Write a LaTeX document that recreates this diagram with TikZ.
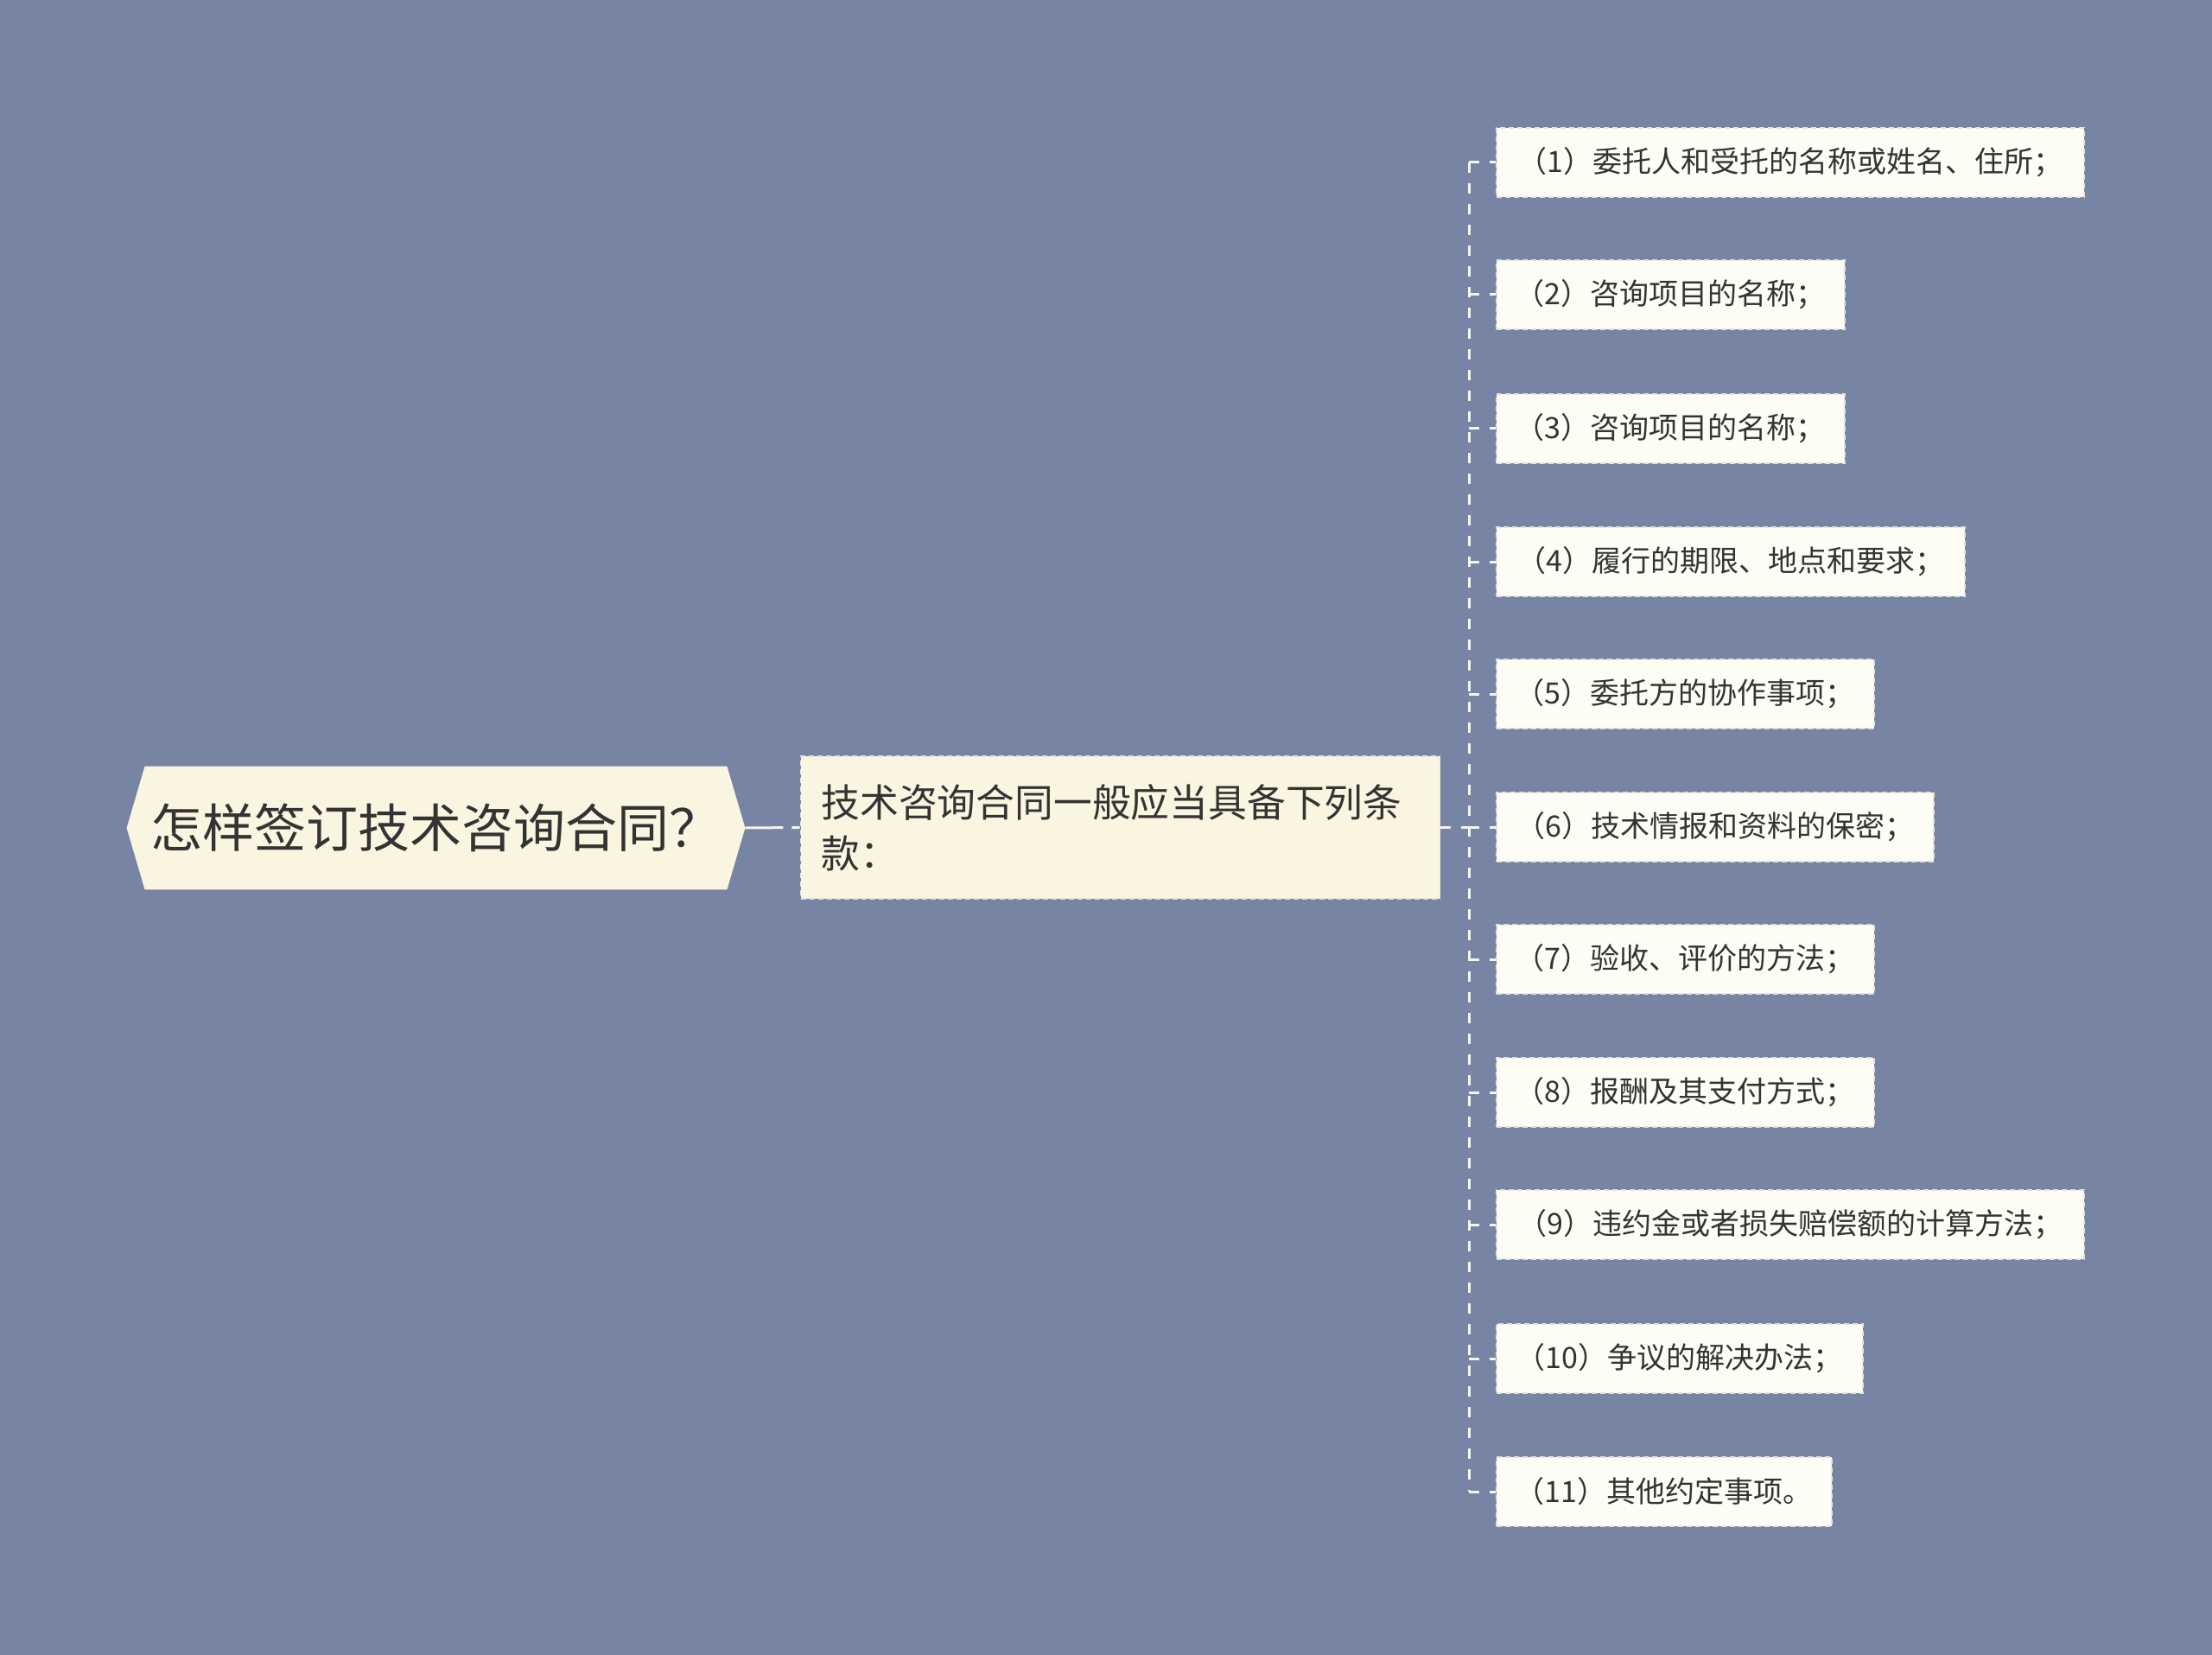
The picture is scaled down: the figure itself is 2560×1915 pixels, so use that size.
\documentclass[tikz,border=0pt]{standalone}
\usepackage{fontspec}
\setmainfont{Noto Sans CJK SC}
\usetikzlibrary{backgrounds,calc}
\definecolor{bgc}{HTML}{7784A3}
\definecolor{creamc}{HTML}{FAF5E0}
\definecolor{leafc}{HTML}{FDFDF5}
\definecolor{txtc}{HTML}{333333}
\definecolor{edgec}{HTML}{F4F4F0}
\definecolor{bordc}{HTML}{E2E2DA}
\tikzset{
  rootnode/.style={minimum width=336.5pt, minimum height=71pt, inner sep=0pt, text=txtc, font=\fontsize{30}{34}\selectfont},
  midnode/.style={fill=creamc, draw=bordc, dash pattern=on 3pt off 2pt, line width=0.8pt, text width=346pt, minimum height=82.5pt, align=left, text=txtc, inner xsep=12pt, font=\fontsize{22.4}{29.5}\selectfont},
  leafnode/.style={fill=leafc, draw=bordc, dash pattern=on 3pt off 2pt, line width=0.8pt, minimum height=40pt, inner xsep=8pt, anchor=west, text=txtc, font=\fontsize{17}{20}\selectfont},
  conn/.style={draw=edgec, line width=1.5pt, dash pattern=on 6pt off 6pt},
  rootconn/.style={draw=edgec, line width=1.5pt, dash pattern=on 22pt off 5pt}
}
\begin{document}
\begin{tikzpicture}[x=0.5pt,y=-0.5pt]
\begin{scope}[on background layer]
\fill[bgc] (0,0) rectangle (2560,1915);
\end{scope}
\useasboundingbox (0,0) rectangle (2560,1915);
% root
\node[rootnode] (root) at (504.5,958) {怎样签订技术咨询合同？};
\begin{scope}[on background layer]
\fill[creamc] (root.north west) -- (root.north east) -- ($(root.east)+(21,0)$) -- (root.south east) -- (root.south west) -- ($(root.west)+(-21,0)$) -- cycle;
\end{scope}
\coordinate (roottip) at ($(root.east)+(21,0)$);
% middle
\node[midnode] (mid) at (1296.5,957.5) {技术咨询合同一般应当具备下列条\\款：};
\draw[rootconn] (roottip) -- (mid.west);
% leaves
\node[leafnode, minimum width=340pt] (l1) at (1731,188) {（1）委托人和受托的名称或姓名、住所；};
\node[leafnode, minimum width=201.5pt] (l2) at (1731,341) {（2）咨询项目的名称；};
\node[leafnode, minimum width=201.5pt] (l3) at (1731,496) {（3）咨询项目的名称；};
\node[leafnode, minimum width=271pt] (l4) at (1731,650) {（4）履行的期限、地点和要求；};
\node[leafnode, minimum width=218.5pt] (l5) at (1731,803) {（5）委托方的协作事项；};
\node[leafnode, minimum width=253pt] (l6) at (1731,957) {（6）技术情报和资料的保密；};
\node[leafnode, minimum width=218.5pt] (l7) at (1731,1110) {（7）验收、评价的方法；};
\node[leafnode, minimum width=218.5pt] (l8) at (1731,1264) {（8）报酬及其支付方式；};
\node[leafnode, minimum width=340pt] (l9) at (1731,1417) {（9）违约金或者损失赔偿额的计算方法；};
\node[leafnode, minimum width=212pt] (l10) at (1731,1572) {（10）争议的解决办法；};
\node[leafnode, minimum width=194pt] (l11) at (1731,1726) {（11）其他约定事项。};
% trunk
\coordinate (tj) at (1700,957.5);
\coordinate (ttop) at (1700,188);
\coordinate (tbot) at (1700,1726);
\draw[conn] (mid.east) -- (tj);
\draw[conn] (ttop) -- (tbot);
\foreach \i in {1,...,11} {
  \draw[conn] (l\i.west -| tj) -- (l\i.west);
}
\end{tikzpicture}
\end{document}
